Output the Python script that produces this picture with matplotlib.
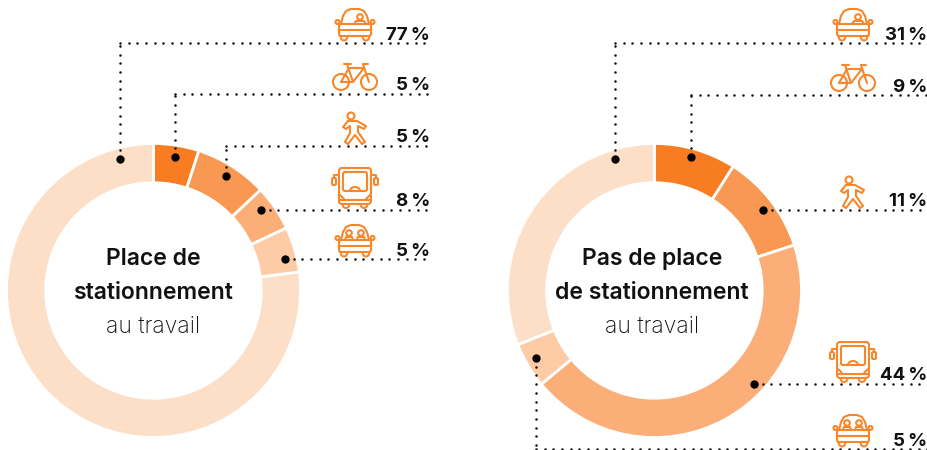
import numpy as np
import matplotlib
matplotlib.use('Agg')
import matplotlib.pyplot as plt
from matplotlib.patches import Circle, FancyBboxPatch, Arc

plt.rcParams['font.family'] = ['Inter', 'DejaVu Sans']

colors = ['#f77c22', '#f99853', '#fbae78', '#fdcba6', '#fddfc8']
orange = '#f8862b'
dark = '#111111'
icon_lw = 1.5

# parts of each ring, clockwise from the top
left_values = [5, 8, 5, 5, 77]
right_values = [9, 11, 44, 5, 31]

left_labels = ['77\u2009%', '5\u2009%', '5\u2009%', '8\u2009%', '5\u2009%']
right_labels = ['31\u2009%', '9\u2009%', '11\u2009%', '44\u2009%', '5\u2009%']
icons = ['car', 'bike', 'walk', 'bus', 'carpool']

# dot x, dot y, row y of the leader
left_leaders = [(120, 159, 43), (175, 157, 94), (226, 176, 146), (261, 210, 210), (285, 259, 259)]
right_leaders = [(615, 159, 43), (691, 157, 95), (763, 210, 210), (754, 384, 384), (536, 358, 449)]


def line(ax, xs, ys):
    ax.plot(xs, ys, color=orange, lw=icon_lw, solid_capstyle='round', solid_joinstyle='round')


def rbox(ax, x, y, w, h, r):
    ax.add_patch(FancyBboxPatch((x + r, y + r), w - 2 * r, h - 2 * r, boxstyle=f'round,pad={r}',
                                fc='none', ec=orange, lw=icon_lw))


def ring(ax, x, y, r):
    ax.add_patch(Circle((x, y), r, fc='none', ec=orange, lw=icon_lw))


def arc(ax, x, y, w, h, t1, t2):
    ax.add_patch(Arc((x, y), w, h, theta1=t1, theta2=t2, ec=orange, lw=icon_lw))


def car_body(ax, cx, top):
    line(ax, [cx - 14, cx - 12, cx - 9, cx - 4, cx + 4, cx + 9, cx + 12, cx + 14],
         [top + 15, top + 7, top + 2, top, top, top + 2, top + 7, top + 15])
    rbox(ax, cx - 16, top + 15, 32, 12, 2)
    line(ax, [cx - 16, cx + 16], [top + 21, top + 21])
    ring(ax, cx - 17.5, top + 13, 2)
    ring(ax, cx + 17.5, top + 13, 2)
    arc(ax, cx - 11, top + 27, 7, 9, 0, 180)
    arc(ax, cx + 11, top + 27, 7, 9, 0, 180)


def draw_icon(ax, kind, cx, bottom):
    if kind == 'car':
        top = bottom - 32
        car_body(ax, cx, top)
        ring(ax, cx + 5, top + 8, 2.8)
        line(ax, [cx - 1, cx + 1, cx + 9, cx + 11], [top + 15, top + 12, top + 12, top + 15])
    elif kind == 'carpool':
        top = bottom - 32
        car_body(ax, cx, top)
        for dx in (-6, 6):
            ring(ax, cx + dx, top + 8, 2.8)
            line(ax, [cx + dx - 4, cx + dx - 3, cx + dx + 3, cx + dx + 4],
                 [top + 15, top + 12, top + 12, top + 15])
    elif kind == 'bike':
        base = bottom - 9
        ring(ax, cx - 14, base - 1, 8)
        ring(ax, cx + 14, base - 1, 8)
        line(ax, [cx - 14, cx - 6, cx + 9, cx - 2, cx - 14], [base - 1, base - 15, base - 15, base - 1, base - 1])
        line(ax, [cx - 8, cx - 2], [base - 19, base - 1])
        line(ax, [cx - 11, cx - 4], [base - 19, base - 19])
        line(ax, [cx + 14, cx + 8, cx + 13], [base - 1, base - 19, base - 19])
    elif kind == 'walk':
        top = bottom - 32
        ring(ax, cx - 4, top + 4, 3.5)
        line(ax, [cx - 7, cx - 12, cx - 9, cx - 5, cx - 5, cx - 10, cx - 7, cx, cx + 7, cx + 10, cx + 3, cx + 3,
                  cx + 9, cx + 11, cx + 2, cx - 7],
             [top + 9, top + 15, top + 17, top + 14, top + 21, top + 30, top + 32, top + 23, top + 32, top + 30,
              top + 20, top + 14, top + 17, top + 14, top + 9, top + 9])
    elif kind == 'bus':
        top = bottom - 40
        rbox(ax, cx - 16, top, 32, 36, 3)
        rbox(ax, cx - 12, top + 4, 24, 19, 2)
        arc(ax, cx, top + 23, 10, 8, 180, 360)
        line(ax, [cx - 16, cx - 11], [top + 26, top + 31])
        line(ax, [cx + 16, cx + 11], [top + 26, top + 31])
        line(ax, [cx - 16, cx + 16], [top + 32, top + 32])
        rbox(ax, cx - 23, top + 10, 4, 7, 1.5)
        rbox(ax, cx + 19, top + 10, 4, 7, 1.5)
        line(ax, [cx - 21, cx - 21, cx - 16], [top + 10, top + 7, top + 7])
        line(ax, [cx + 21, cx + 21, cx + 16], [top + 10, top + 7, top + 7])
        arc(ax, cx - 9, top + 36, 7, 8, 0, 180)
        arc(ax, cx + 9, top + 36, 7, 8, 0, 180)


def dotted(ax, xs, ys, step=8.7):
    # round dots walked along a polyline
    for x0, y0, x1, y1 in zip(xs[:-1], ys[:-1], xs[1:], ys[1:]):
        length = np.hypot(x1 - x0, y1 - y0)
        t = np.arange(0, length + 0.1, step) / max(length, 1)
        ax.plot(x0 + (x1 - x0) * t, y0 + (y1 - y0) * t, 'o', color=dark, ms=1.8, mew=0)


fig = plt.figure(figsize=(9.28, 4.5), dpi=100)

for cx, values in [(153.5, left_values), (654.5, right_values)]:
    r = 147
    pie_ax = fig.add_axes([(cx - r) / 928, 1 - (290.5 + r) / 450, 2 * r / 928, 2 * r / 450])
    pie_ax.pie(values, colors=colors, startangle=90, counterclock=False, radius=1,
               wedgeprops=dict(width=0.267, edgecolor='white', linewidth=2))
    pie_ax.set_xlim(-1, 1)
    pie_ax.set_ylim(-1, 1)

ax = fig.add_axes([0, 0, 1, 1], zorder=5)
ax.set_xlim(0, 928)
ax.set_ylim(450, 0)
ax.axis('off')
ax.patch.set_alpha(0)

panels = [
    (left_leaders, left_labels, 431, 355, ['Place de', 'stationnement'], 153.5),
    (right_leaders, right_labels, 928, 853, ['Pas de place', 'de stationnement'], 652),
]
for leaders, labels, xend, icon_x, title, tx in panels:
    for (dx, dy, row), label, icon in zip(leaders, labels, icons):
        dotted(ax, [dx, dx, xend], [dy, row, row])
        ax.plot(dx, dy, 'o', color='black', ms=6, mew=0)
        ax.text(xend - 1, row - 3.5, label, ha='right', va='baseline', fontsize=13.5, fontweight='bold', color=dark)
        draw_icon(ax, icon, icon_x, row - 2)
    ax.text(tx, 259, title[0], ha='center', va='center', fontsize=16.5, fontweight='semibold', color=dark)
    ax.text(tx, 293, title[1], ha='center', va='center', fontsize=16.5, fontweight='semibold', color=dark)
    ax.text(tx, 327, 'au travail', ha='center', va='center', fontsize=16.5, fontweight='light', color=dark)

fig.savefig('out.png', dpi=100)
